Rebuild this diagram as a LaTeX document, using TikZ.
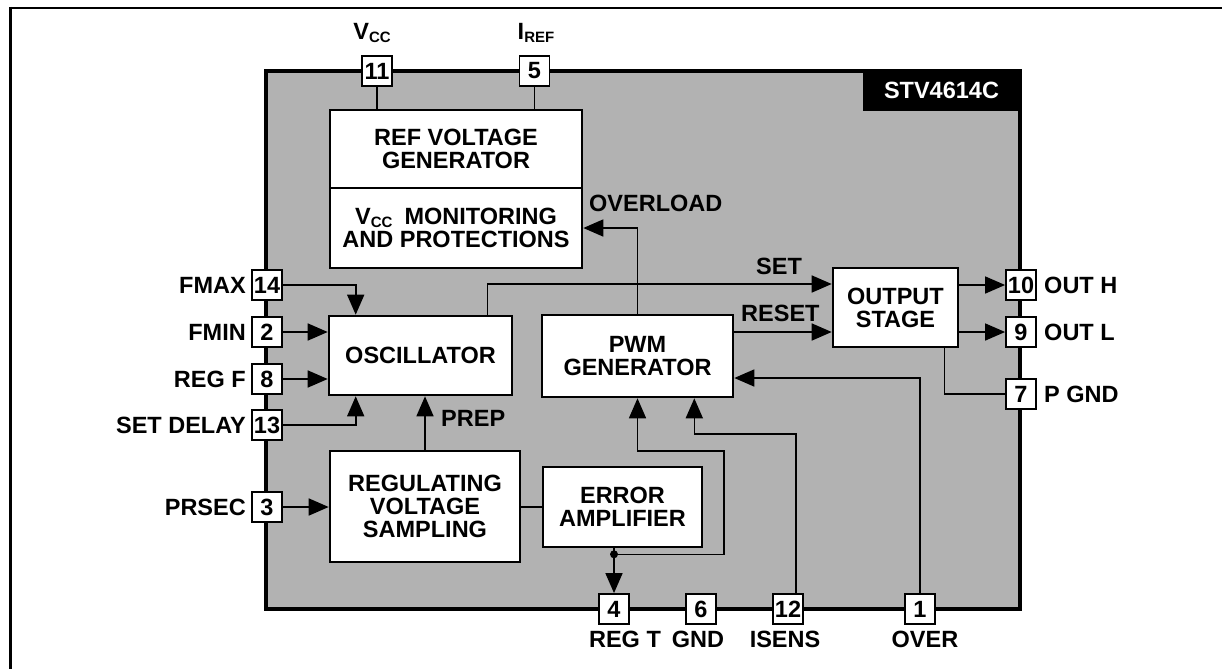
\documentclass[tikz,border=0pt]{standalone}
\usepackage{fontspec}
\setmainfont{Liberation Sans}
\usetikzlibrary{arrows.meta}
\newcommand\sublbl[1]{\raisebox{-3pt}{\fontsize{15}{15}\selectfont #1}}
\begin{document}
\begin{tikzpicture}[x=1pt,y=-1pt,
  every node/.style={font=\fontsize{23.5}{23}\selectfont\bfseries},
  chipbox/.style={draw, line width=4pt, fill=black!30, inner sep=0pt},
  block/.style={draw, line width=2.6pt, fill=white, align=center, inner sep=0pt},
  pinbox/.style={draw, line width=1.8pt, fill=white, minimum width=30pt, minimum height=30pt, inner sep=0pt},
  wire/.style={line width=1.6pt},
  arr/.style={wire, -{Triangle[length=20pt,width=17pt]}},
  lbl/.style={inner sep=0pt}]
\useasboundingbox (0,0) rectangle (1222,669);
% outer frame (top and left)
\draw[line width=2pt] (9,8) -- (1222,8);
\draw[line width=3pt] (10,7) -- (10,669);
% chip
\node[chipbox, minimum width=754pt, minimum height=538pt] (chip) at (643,340) {};
% name tag
\node[fill=black, text=white, minimum width=157pt, minimum height=42pt, inner sep=0pt] (name) at (941.5,90) {STV4614C};
% blocks
\node[block, minimum width=252pt, minimum height=78pt] (ref) at (456,149) {REF VOLTAGE\\GENERATOR};
\node[block, minimum width=252pt, minimum height=80pt] (mon) at (456,228) {V\sublbl{CC}\hspace{12pt}MONITORING\\AND PROTECTIONS};
\node[block, minimum width=183pt, minimum height=79pt] (osc) at (420.5,355.5) {OSCILLATOR};
\node[block, minimum width=191pt, minimum height=82pt] (pwm) at (637.5,356) {PWM\\GENERATOR};
\node[block, minimum width=190pt, minimum height=111pt] (rvs) at (425,506.5) {REGULATING\\VOLTAGE\\SAMPLING};
\node[block, minimum width=159pt, minimum height=80pt] (err) at (622.5,507) {ERROR\\AMPLIFIER};
\node[block, minimum width=125pt, minimum height=79pt] (out) at (895.5,307.5) {OUTPUT\\STAGE};
% pins
\node[pinbox] (p11) at (377,71) {11};
\node[pinbox] (p5) at (534.5,71) {5};
\node[pinbox] (p14) at (267,285) {14};
\node[pinbox] (p2) at (267,332) {2};
\node[pinbox] (p8) at (267,379) {8};
\node[pinbox] (p13) at (267,425) {13};
\node[pinbox] (p3) at (267,507) {3};
\node[pinbox] (p10) at (1021,285) {10};
\node[pinbox] (p9) at (1021,332) {9};
\node[pinbox] (p7) at (1021,394) {7};
\node[pinbox] (p4) at (614,609) {4};
\node[pinbox] (p6) at (701,609) {6};
\node[pinbox] (p12) at (788,609) {12};
\node[pinbox] (p1) at (920,609) {1};
% helper coordinates
\coordinate (fb1) at (724,451);
\coordinate (is1) at (796,434);
\path (p4.north |- err.south) ++(0,6) coordinate (dot);
% wires
\draw[wire] (p11.south) -- (p11.south |- ref.north);
\draw[wire] (p5.south) -- (p5.south |- ref.north);
\draw[arr] (p14.east) -| ([xshift=28pt]osc.north west);
\draw[arr] (p2.east) -- (p2.east -| osc.west);
\draw[arr] (p8.east) -- (p8.east -| osc.west);
\draw[arr] (p13.east) -| ([xshift=28pt]osc.south west);
\draw[arr] (p3.east) -- (p3.east -| rvs.west);
\draw[arr] (rvs.north) -- (rvs.north |- osc.south);
\draw[wire] (rvs.east |- err.west) -- (err.west);
\draw[wire] (err.south -| dot) -- (dot);
\fill (dot) circle (4pt);
\draw[arr] (dot) -- (p4.north);
\draw[arr] (dot) -| (fb1) -| (pwm.south);
\draw[arr] (is1 |- p12.north) -- (is1) -| ([xshift=-40pt]pwm.south east);
\draw[arr] (p1.north) |- ([yshift=-22pt]pwm.east);
\draw[arr] (pwm.north) |- (mon.east);
\draw[arr] ([xshift=-26pt]osc.north east) |- ([yshift=23.5pt]out.west);
\draw[arr] ([yshift=24pt]pwm.east) -- ([yshift=24pt]pwm.east -| out.west);
\draw[arr] (out.east |- p10.west) -- (p10.west);
\draw[arr] (out.east |- p9.west) -- (p9.west);
\draw[wire] ([xshift=-15pt]out.south east) |- (p7.west);
% labels
\node[lbl, anchor=east] (lfmax) at (246,285) {FMAX};
\node[lbl, anchor=east] (lfmin) at (246,332) {FMIN};
\node[lbl, anchor=east] (lregf) at (246,379) {REG F};
\node[lbl, anchor=east] (lsetd) at (246,425) {SET DELAY};
\node[lbl, anchor=east] (lprsec) at (246,507) {PRSEC};
\node[lbl, anchor=west] (louth) at (1044,285) {OUT H};
\node[lbl, anchor=west] (loutl) at (1044,332) {OUT L};
\node[lbl, anchor=west] (lpgnd) at (1044,394) {P GND};
\node[lbl] (lregt) at (625,639) {REG T};
\node[lbl] (lgnd) at (698,639) {GND};
\node[lbl] (lisens) at (785,639) {ISENS};
\node[lbl] (lover) at (925,639) {OVER};
\node[lbl] (lvcc) at (372,33) {V\sublbl{CC}};
\node[lbl] (liref) at (536,33) {I\sublbl{REF}};
\node[lbl, anchor=west] (lovl) at (589,203) {OVERLOAD};
\node[lbl, anchor=west] (lset) at (756,266) {SET};
\node[lbl, anchor=west] (lreset) at (741,313) {RESET};
\node[lbl, anchor=west] (lprep) at (441,418) {PREP};
\end{tikzpicture}
\end{document}
